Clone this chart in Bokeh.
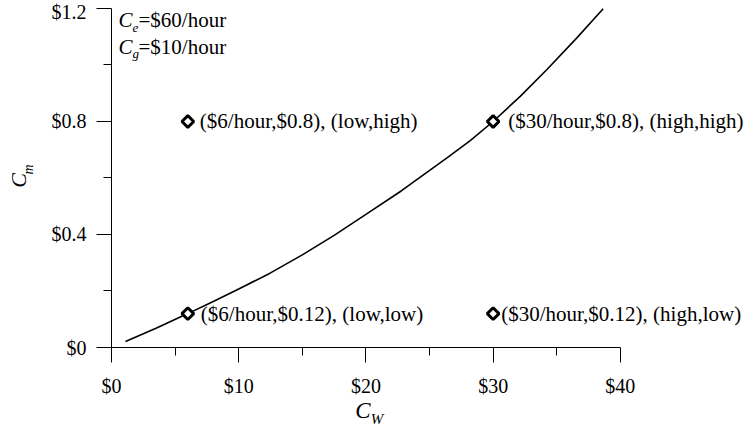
import math
from bokeh.plotting import figure
from bokeh.models import Range1d, FixedTicker, Label, ColumnDataSource
from bokeh.core.properties import value
from bokeh.embed import file_html
from bokeh.resources import INLINE

# ---- data ----
curve_x = [1.1, 3.5, 6, 8, 10, 12.5, 15, 17.5, 20, 22.8, 26.4, 28.2, 30,
           32.15, 34.25, 36.6, 38.65]
curve_y = [0.021, 0.068, 0.12, 0.163, 0.207, 0.264, 0.328, 0.397, 0.471,
           0.555, 0.672, 0.732, 0.80, 0.89, 0.985, 1.097, 1.199]

point_x = [6, 30, 6, 30]
point_y = [0.8, 0.8, 0.12, 0.12]
point_labels = ["($6/hour,$0.8), (low,high)",
                "($30/hour,$0.8), (high,high)",
                "($6/hour,$0.12), (low,low)",
                "($30/hour,$0.12), (high,low)"]
point_label_gap = [12, 15, 13, 8]

x_ticks = [0, 10, 20, 30, 40]
x_minor = [5, 15, 25, 35]
x_tick_labels = ["$0", "$10", "$20", "$30", "$40"]
y_ticks = [0, 0.4, 0.8, 1.2]
y_minor = [0.2, 0.6, 1.0]
y_tick_labels = ["$0", "$0.4", "$0.8", "$1.2"]

FONT = "Liberation Serif"

p = figure(width=744, height=425, output_backend="svg", toolbar_location=None,
           x_range=Range1d(0, 49.76), y_range=Range1d(0, 1.2283),
           min_border_left=111, min_border_right=0, min_border_top=0,
           min_border_bottom=78)
p.outline_line_color = None
p.xgrid.visible = False
p.ygrid.visible = False
p.background_fill_color = "white"
p.border_fill_color = "white"

for ax, ticks, minor, labels, bnds, standoff in (
        (p.xaxis[0], x_ticks, x_minor, x_tick_labels, (0, 40), 12),
        (p.yaxis[0], y_ticks, y_minor, y_tick_labels, (0, 1.2), 10)):
    ax.ticker = FixedTicker(ticks=ticks, minor_ticks=minor)
    ax.major_label_overrides = {t: l for t, l in zip(ticks, labels)}
    ax.bounds = bnds
    ax.axis_line_color = "black"
    ax.axis_line_width = 1
    ax.major_tick_in = 0
    ax.major_tick_out = 15
    ax.minor_tick_in = 0
    ax.minor_tick_out = 8
    ax.major_tick_line_color = "black"
    ax.minor_tick_line_color = "black"
    ax.major_label_text_font = FONT
    ax.major_label_text_font_size = "20px"
    ax.major_label_text_color = "black"
    ax.major_label_standoff = standoff

# curve
p.line(curve_x, curve_y, line_color="black", line_width=1.6)

# points
src = ColumnDataSource(dict(x=point_x, y=point_y, text=point_labels,
                            gap=point_label_gap))
p.scatter("x", "y", source=src, marker="square", angle=math.pi / 4,
          size=8.3, fill_color="white", line_color="black", line_width=3)
p.text("x", "y", text="text", source=src, x_offset="gap",
       text_font=value(FONT), text_font_size="21px",
       text_baseline="middle", text_align="left", text_color="black")


def lab(x, y, text, xo, yo, size, italic=False, angle=0.0, align="left",
        place="center"):
    p.add_layout(Label(x=x, y=y, x_offset=xo, y_offset=yo, text=text,
                       text_font=FONT, text_font_size=size,
                       text_font_style="italic" if italic else "normal",
                       text_align=align, text_baseline="middle",
                       text_color="black", angle=angle), place)


# parameter text (top-left)
lab(0, 1.2, "C", 7, -12, "21px", italic=True)
lab(0, 1.2, "e", 21, -20, "13px", italic=True)
lab(0, 1.2, "=$60/hour", 27, -12, "21px")
lab(0, 1.2, "C", 7, -39, "21px", italic=True)
lab(0, 1.2, "g", 21, -45, "13px", italic=True)
lab(0, 1.2, "=$10/hour", 27, -39, "21px")

# x axis title C_W (kept in the left side panel so it is not clipped)
lab(20, 0, "C", -3, -63, "23px", italic=True, align="center", place="left")
lab(20, 0, "W", 11, -71, "15px", italic=True, align="center", place="left")

# y axis title C_m (kept in the bottom side panel so it is not clipped)
lab(0, 0, "C", -93, 167, "22px", italic=True, angle=math.pi / 2,
    align="center", place="below")
lab(0, 0, "m", -83, 178, "14px", italic=True, angle=math.pi / 2,
    align="center", place="below")

open("out.html", "w").write(file_html(p, INLINE))
